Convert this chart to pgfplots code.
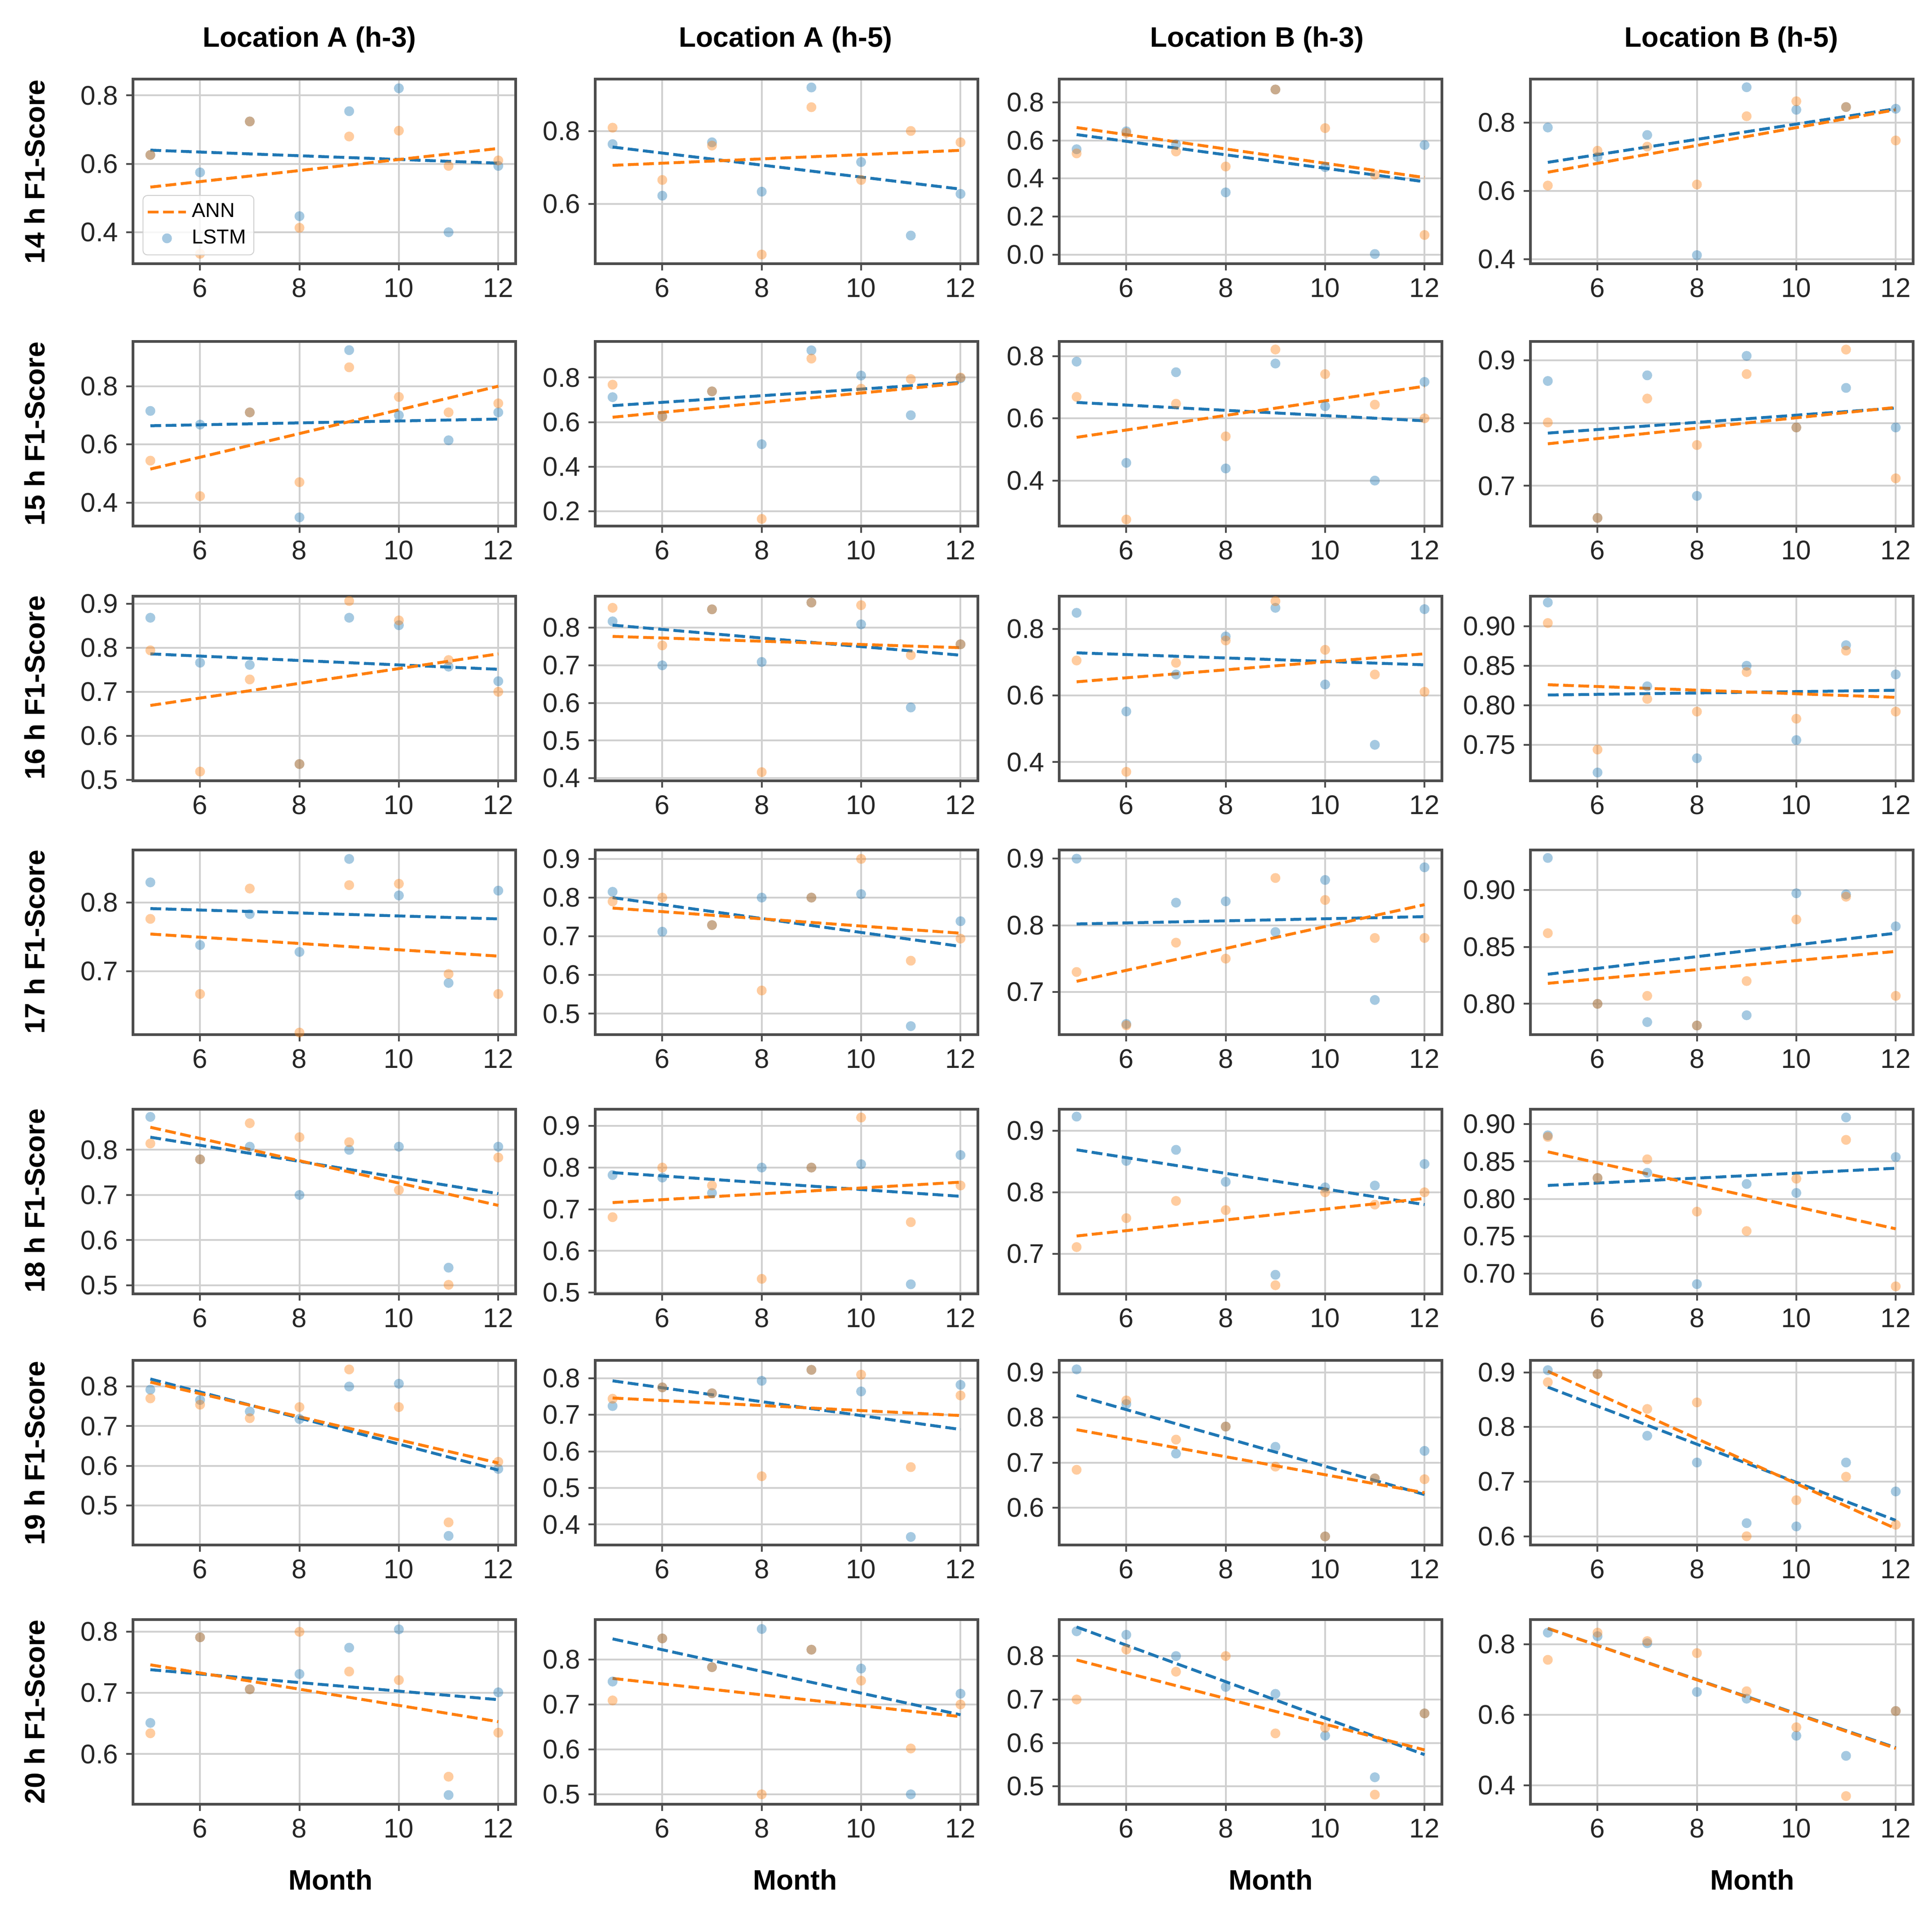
\documentclass[border=0pt]{standalone}
\usepackage{fontspec}
\setmainfont{Liberation Sans}
\usepackage{pgfplots}
\pgfplotsset{compat=1.18}
\definecolor{tabblue}{HTML}{1F77B4}
\definecolor{taborange}{HTML}{FF7F0E}
\definecolor{gridc}{HTML}{D0D0D0}
\definecolor{framec}{HTML}{4D4D4D}

\pgfplotsset{
  ann dots/.style={only marks, mark=*, mark size=2.2pt, color=taborange,
    mark options={solid, draw opacity=0, fill=taborange, fill opacity=0.4}},
  lstm dots/.style={only marks, mark=*, mark size=2.2pt, color=tabblue,
    mark options={solid, draw opacity=0, fill=tabblue, fill opacity=0.4}},
  ann line/.style={taborange, line width=1.3pt, dash pattern=on 4.8pt off 2pt, no marks},
  lstm line/.style={tabblue, line width=1.3pt, dash pattern=on 4.8pt off 2pt, no marks},
  panel/.style={
    scale only axis, width=170.4pt, height=82.2pt, anchor=north west,
    xmin=4.65, xmax=12.35, xtick={6,8,10,12},
    grid=major, major grid style={gridc, line width=0.8pt},
    axis line style={framec, line width=1.3pt},
    tick style={framec, line width=0.8pt}, tick align=outside, major tick length=3pt,
    xtick pos=bottom, ytick pos=left,
    ticklabel style={font=\fontsize{12}{14}\selectfont, text=black!85},
    /pgf/number format/assume math mode=true,
    yticklabel style={/pgf/number format/.cd, fixed, fixed zerofill, precision=1},
  },
  two dec/.style={yticklabel style={/pgf/number format/.cd, fixed, fixed zerofill, precision=2}},
}

% #1 x, #2 y (top left), #3 options, #4 ANN points, #5 LSTM points, #6 ANN trend, #7 LSTM trend, #8 extra
\newcommand{\panel}[8]{%
  \begin{axis}[panel, at={(#1pt,#2pt)}, #3]
    \addplot[lstm dots, forget plot] coordinates {#5};
    \addplot[ann dots, forget plot] coordinates {#4};
    \addplot[lstm line, forget plot] coordinates {#7};
    \addplot[ann line, forget plot] coordinates {#6};
    #8
  \end{axis}}

\begin{document}
\begin{tikzpicture}
\path (0,0) rectangle (860.2pt,849.4pt);

% ---- 14 h ----
\panel{59.2}{814.2}{ymin=0.308, ymax=0.848, ytick={0.4,0.6,0.8},
    legend style={at={(0.025,0.045)}, anchor=south west, draw=gridc, rounded corners=2pt,
      font=\fontsize{9}{10}\selectfont, fill=white, fill opacity=0.85, text opacity=1, inner sep=1.5pt},
    legend cell align=left}
  {(5,0.626)(6,0.337)(7,0.724)(8,0.413)(9,0.680)(10,0.697)(11,0.594)(12,0.610)}
  {(5,0.626)(6,0.575)(7,0.724)(8,0.447)(9,0.754)(10,0.821)(11,0.400)(12,0.594)}
  {(5,0.532)(12,0.645)}
  {(5,0.640)(12,0.602)}
  {\addlegendimage{ann line}\addlegendentry{ANN}
   \addlegendimage{lstm dots}\addlegendentry{LSTM}}
\panel{265.0}{814.2}{ymin=0.437, ymax=0.942, ytick={0.6,0.8}}
  {(5,0.809)(6,0.666)(7,0.760)(8,0.462)(9,0.865)(10,0.666)(11,0.800)(12,0.769)}
  {(5,0.764)(6,0.623)(7,0.769)(8,0.634)(9,0.919)(10,0.715)(11,0.514)(12,0.628)}
  {(5,0.706)(12,0.747)}
  {(5,0.756)(12,0.641)}{}
\panel{471.6}{814.2}{ymin=-0.048, ymax=0.923, ytick={0,0.2,0.4,0.6,0.8}}
  {(5,0.532)(6,0.640)(7,0.542)(8,0.463)(9,0.868)(10,0.665)(11,0.420)(12,0.103)}
  {(5,0.554)(6,0.648)(7,0.580)(8,0.327)(9,0.868)(10,0.460)(11,0.003)(12,0.576)}
  {(5,0.668)(12,0.405)}
  {(5,0.631)(12,0.383)}{}
\panel{681.4}{814.2}{ymin=0.387, ymax=0.928, ytick={0.4,0.6,0.8}}
  {(5,0.616)(6,0.718)(7,0.730)(8,0.619)(9,0.819)(10,0.863)(11,0.846)(12,0.748)}
  {(5,0.786)(6,0.700)(7,0.764)(8,0.412)(9,0.904)(10,0.838)(11,0.846)(12,0.841)}
  {(5,0.655)(12,0.838)}
  {(5,0.684)(12,0.841)}{}

% ---- 15 h ----
\panel{59.2}{697.4}{ymin=0.319, ymax=0.954, ytick={0.4,0.6,0.8}}
  {(5,0.544)(6,0.422)(7,0.710)(8,0.470)(9,0.865)(10,0.763)(11,0.710)(12,0.741)}
  {(5,0.715)(6,0.668)(7,0.710)(8,0.349)(9,0.924)(10,0.700)(11,0.614)(12,0.710)}
  {(5,0.515)(12,0.800)}
  {(5,0.664)(12,0.687)}{}
\panel{265.0}{697.4}{ymin=0.134, ymax=0.962, ytick={0.2,0.4,0.6,0.8}}
  {(5,0.768)(6,0.624)(7,0.738)(8,0.166)(9,0.885)(10,0.750)(11,0.793)(12,0.800)}
  {(5,0.712)(6,0.627)(7,0.738)(8,0.501)(9,0.922)(10,0.809)(11,0.631)(12,0.797)}
  {(5,0.622)(12,0.774)}
  {(5,0.674)(12,0.778)}{}
\panel{471.6}{697.4}{ymin=0.254, ymax=0.847, ytick={0.4,0.6,0.8}}
  {(5,0.669)(6,0.275)(7,0.647)(8,0.542)(9,0.821)(10,0.742)(11,0.644)(12,0.600)}
  {(5,0.782)(6,0.457)(7,0.748)(8,0.439)(9,0.776)(10,0.639)(11,0.400)(12,0.717)}
  {(5,0.539)(12,0.703)}
  {(5,0.651)(12,0.592)}{}
\panel{681.4}{697.4}{ymin=0.636, ymax=0.930, ytick={0.7,0.8,0.9}}
  {(5,0.801)(6,0.649)(7,0.839)(8,0.765)(9,0.878)(10,0.793)(11,0.917)(12,0.712)}
  {(5,0.867)(6,0.649)(7,0.876)(8,0.684)(9,0.907)(10,0.793)(11,0.856)(12,0.793)}
  {(5,0.767)(12,0.825)}
  {(5,0.784)(12,0.824)}{}

% ---- 16 h ----
\panel{59.2}{584.0}{ymin=0.498, ymax=0.917, ytick={0.5,0.6,0.7,0.8,0.9}}
  {(5,0.794)(6,0.519)(7,0.728)(8,0.536)(9,0.906)(10,0.862)(11,0.772)(12,0.700)}
  {(5,0.868)(6,0.766)(7,0.761)(8,0.536)(9,0.868)(10,0.851)(11,0.757)(12,0.724)}
  {(5,0.669)(12,0.786)}
  {(5,0.786)(12,0.751)}{}
\panel{265.0}{584.0}{ymin=0.393, ymax=0.884, ytick={0.4,0.5,0.6,0.7,0.8}}
  {(5,0.853)(6,0.753)(7,0.849)(8,0.416)(9,0.867)(10,0.860)(11,0.727)(12,0.756)}
  {(5,0.817)(6,0.700)(7,0.849)(8,0.709)(9,0.867)(10,0.809)(11,0.588)(12,0.756)}
  {(5,0.777)(12,0.747)}
  {(5,0.807)(12,0.727)}{}
\panel{471.6}{584.0}{ymin=0.344, ymax=0.898, ytick={0.4,0.6,0.8}}
  {(5,0.705)(6,0.371)(7,0.698)(8,0.765)(9,0.883)(10,0.737)(11,0.663)(12,0.611)}
  {(5,0.848)(6,0.552)(7,0.663)(8,0.777)(9,0.863)(10,0.633)(11,0.452)(12,0.859)}
  {(5,0.641)(12,0.725)}
  {(5,0.728)(12,0.692)}{}
\panel{681.4}{584.0}{ymin=0.7045, ymax=0.938, ytick={0.75,0.80,0.85,0.90}, two dec}
  {(5,0.904)(6,0.744)(7,0.808)(8,0.792)(9,0.842)(10,0.783)(11,0.869)(12,0.792)}
  {(5,0.930)(6,0.715)(7,0.824)(8,0.733)(9,0.850)(10,0.756)(11,0.876)(12,0.839)}
  {(5,0.826)(12,0.810)}
  {(5,0.813)(12,0.819)}{}

% ---- 17 h ----
\panel{59.2}{471.0}{ymin=0.608, ymax=0.876, ytick={0.7,0.8}}
  {(5,0.776)(6,0.667)(7,0.820)(8,0.611)(9,0.825)(10,0.827)(11,0.696)(12,0.667)}
  {(5,0.829)(6,0.738)(7,0.783)(8,0.728)(9,0.863)(10,0.810)(11,0.683)(12,0.817)}
  {(5,0.754)(12,0.722)}
  {(5,0.791)(12,0.776)}{}
\panel{265.0}{471.0}{ymin=0.446, ymax=0.923, ytick={0.5,0.6,0.7,0.8,0.9}}
  {(5,0.790)(6,0.800)(7,0.729)(8,0.560)(9,0.800)(10,0.900)(11,0.637)(12,0.694)}
  {(5,0.815)(6,0.712)(7,0.729)(8,0.800)(9,0.800)(10,0.809)(11,0.468)(12,0.739)}
  {(5,0.773)(12,0.708)}
  {(5,0.800)(12,0.674)}{}
\panel{471.6}{471.0}{ymin=0.636, ymax=0.913, ytick={0.7,0.8,0.9}}
  {(5,0.730)(6,0.650)(7,0.774)(8,0.750)(9,0.871)(10,0.838)(11,0.781)(12,0.781)}
  {(5,0.900)(6,0.652)(7,0.834)(8,0.836)(9,0.790)(10,0.868)(11,0.688)(12,0.887)}
  {(5,0.716)(12,0.831)}
  {(5,0.802)(12,0.813)}{}
\panel{681.4}{471.0}{ymin=0.773, ymax=0.935, ytick={0.80,0.85,0.90}, two dec}
  {(5,0.862)(6,0.800)(7,0.807)(8,0.781)(9,0.820)(10,0.874)(11,0.894)(12,0.807)}
  {(5,0.928)(6,0.800)(7,0.784)(8,0.781)(9,0.790)(10,0.897)(11,0.896)(12,0.868)}
  {(5,0.818)(12,0.846)}
  {(5,0.826)(12,0.862)}{}

% ---- 18 h ----
\panel{59.2}{355.6}{ymin=0.481, ymax=0.890, ytick={0.5,0.6,0.7,0.8}}
  {(5,0.814)(6,0.779)(7,0.859)(8,0.828)(9,0.817)(10,0.711)(11,0.501)(12,0.783)}
  {(5,0.873)(6,0.779)(7,0.807)(8,0.700)(9,0.800)(10,0.807)(11,0.539)(12,0.807)}
  {(5,0.850)(12,0.677)}
  {(5,0.828)(12,0.703)}{}
\panel{265.0}{355.6}{ymin=0.497, ymax=0.940, ytick={0.5,0.6,0.7,0.8,0.9}}
  {(5,0.681)(6,0.800)(7,0.757)(8,0.533)(9,0.800)(10,0.920)(11,0.669)(12,0.757)}
  {(5,0.782)(6,0.776)(7,0.739)(8,0.800)(9,0.800)(10,0.808)(11,0.520)(12,0.830)}
  {(5,0.716)(12,0.765)}
  {(5,0.788)(12,0.731)}{}
\panel{471.6}{355.6}{ymin=0.635, ymax=0.935, ytick={0.7,0.8,0.9}}
  {(5,0.711)(6,0.758)(7,0.786)(8,0.771)(9,0.649)(10,0.800)(11,0.780)(12,0.800)}
  {(5,0.923)(6,0.851)(7,0.869)(8,0.817)(9,0.666)(10,0.808)(11,0.811)(12,0.846)}
  {(5,0.729)(12,0.790)}
  {(5,0.869)(12,0.780)}{}
\panel{681.4}{355.6}{ymin=0.673, ymax=0.920, ytick={0.70,0.75,0.80,0.85,0.90}, two dec}
  {(5,0.883)(6,0.828)(7,0.853)(8,0.783)(9,0.757)(10,0.827)(11,0.879)(12,0.683)}
  {(5,0.885)(6,0.828)(7,0.835)(8,0.686)(9,0.820)(10,0.808)(11,0.909)(12,0.856)}
  {(5,0.863)(12,0.760)}
  {(5,0.818)(12,0.841)}{}

% ---- 19 h ----
\panel{59.2}{243.8}{ymin=0.400, ymax=0.866, ytick={0.5,0.6,0.7,0.8}}
  {(5,0.770)(6,0.754)(7,0.720)(8,0.748)(9,0.843)(10,0.748)(11,0.457)(12,0.610)}
  {(5,0.792)(6,0.766)(7,0.737)(8,0.718)(9,0.800)(10,0.807)(11,0.423)(12,0.592)}
  {(5,0.811)(12,0.607)}
  {(5,0.819)(12,0.589)}{}
\panel{265.0}{243.8}{ymin=0.344, ymax=0.849, ytick={0.4,0.5,0.6,0.7,0.8}}
  {(5,0.744)(6,0.775)(7,0.759)(8,0.532)(9,0.823)(10,0.810)(11,0.557)(12,0.753)}
  {(5,0.724)(6,0.775)(7,0.759)(8,0.793)(9,0.823)(10,0.764)(11,0.366)(12,0.782)}
  {(5,0.746)(12,0.698)}
  {(5,0.793)(12,0.660)}{}
\panel{471.6}{243.8}{ymin=0.517, ymax=0.927, ytick={0.6,0.7,0.8,0.9}}
  {(5,0.684)(6,0.838)(7,0.751)(8,0.780)(9,0.691)(10,0.536)(11,0.665)(12,0.663)}
  {(5,0.907)(6,0.830)(7,0.720)(8,0.780)(9,0.735)(10,0.536)(11,0.665)(12,0.726)}
  {(5,0.773)(12,0.633)}
  {(5,0.849)(12,0.629)}{}
\panel{681.4}{243.8}{ymin=0.584, ymax=0.922, ytick={0.6,0.7,0.8,0.9}}
  {(5,0.882)(6,0.897)(7,0.833)(8,0.845)(9,0.600)(10,0.666)(11,0.709)(12,0.621)}
  {(5,0.904)(6,0.897)(7,0.784)(8,0.735)(9,0.624)(10,0.618)(11,0.735)(12,0.682)}
  {(5,0.902)(12,0.614)}
  {(5,0.873)(12,0.629)}{}

% ---- 20 h ----
\panel{59.2}{128.4}{ymin=0.518, ymax=0.820, ytick={0.6,0.7,0.8}}
  {(5,0.634)(6,0.791)(7,0.706)(8,0.800)(9,0.735)(10,0.721)(11,0.563)(12,0.635)}
  {(5,0.651)(6,0.791)(7,0.706)(8,0.731)(9,0.774)(10,0.804)(11,0.533)(12,0.701)}
  {(5,0.746)(12,0.653)}
  {(5,0.738)(12,0.689)}{}
\panel{265.0}{128.4}{ymin=0.478, ymax=0.889, ytick={0.5,0.6,0.7,0.8}}
  {(5,0.709)(6,0.847)(7,0.783)(8,0.500)(9,0.822)(10,0.753)(11,0.602)(12,0.700)}
  {(5,0.751)(6,0.847)(7,0.783)(8,0.868)(9,0.822)(10,0.780)(11,0.500)(12,0.724)}
  {(5,0.758)(12,0.673)}
  {(5,0.846)(12,0.677)}{}
\panel{471.6}{128.4}{ymin=0.459, ymax=0.884, ytick={0.5,0.6,0.7,0.8}}
  {(5,0.700)(6,0.815)(7,0.764)(8,0.800)(9,0.622)(10,0.635)(11,0.481)(12,0.668)}
  {(5,0.857)(6,0.849)(7,0.800)(8,0.729)(9,0.713)(10,0.617)(11,0.521)(12,0.668)}
  {(5,0.791)(12,0.584)}
  {(5,0.867)(12,0.573)}{}
\panel{681.4}{128.4}{ymin=0.347, ymax=0.870, ytick={0.4,0.6,0.8}}
  {(5,0.756)(6,0.833)(7,0.809)(8,0.775)(9,0.667)(10,0.565)(11,0.370)(12,0.611)}
  {(5,0.833)(6,0.823)(7,0.803)(8,0.665)(9,0.646)(10,0.541)(11,0.484)(12,0.611)}
  {(5,0.845)(12,0.505)}
  {(5,0.845)(12,0.507)}{}

% column titles
\begin{scope}[every node/.style={font=\bfseries\fontsize{12.5}{15}\selectfont}]
\node at (137.8pt,831.8pt) {Location A (h-3)};
\node at (349.8pt,831.8pt) {Location A (h-5)};
\node at (559.7pt,831.8pt) {Location B (h-3)};
\node at (770.9pt,831.8pt) {Location B (h-5)};
% row labels
\node[rotate=90] at (15.4pt,772.9pt) {14 h F1-Score};
\node[rotate=90] at (15.4pt,656.2pt) {15 h F1-Score};
\node[rotate=90] at (15.4pt,543.2pt) {16 h F1-Score};
\node[rotate=90] at (15.4pt,430.0pt) {17 h F1-Score};
\node[rotate=90] at (15.4pt,314.8pt) {18 h F1-Score};
\node[rotate=90] at (15.4pt,202.4pt) {19 h F1-Score};
\node[rotate=90] at (15.4pt,87.3pt) {20 h F1-Score};
% x labels
\node at (147.2pt,12.6pt) {Month};
\node at (354.0pt,12.6pt) {Month};
\node at (565.8pt,12.6pt) {Month};
\node at (780.2pt,12.6pt) {Month};
\end{scope}
\end{tikzpicture}
\end{document}
